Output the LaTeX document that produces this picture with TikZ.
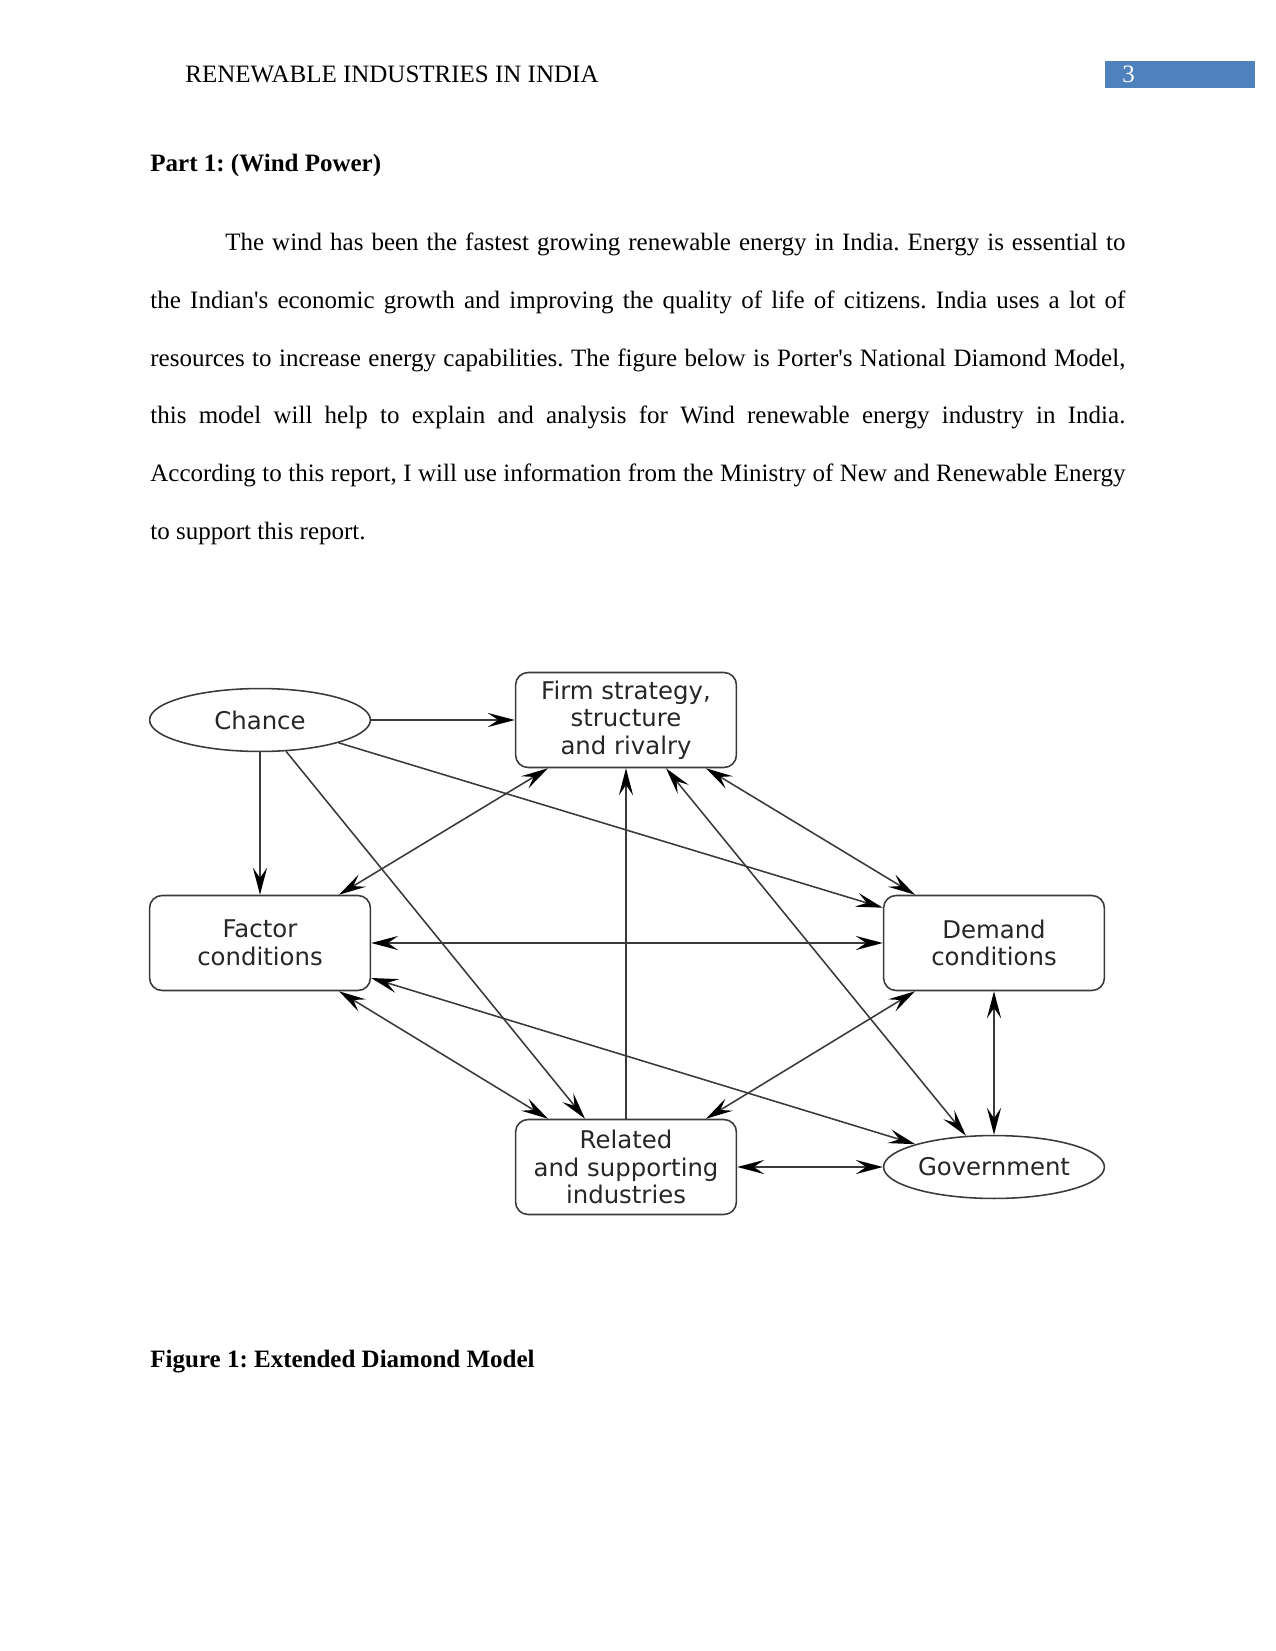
\documentclass[tikz,border=0pt]{standalone}
\usepackage{fontspec}
\setmainfont{Liberation Serif}
\newfontfamily\diagfont{DejaVu Sans}
\usetikzlibrary{calc,shapes.geometric,arrows.meta}
\definecolor{pagenum}{HTML}{4F81BD}
\definecolor{linegray}{HTML}{3A3A3A}
\frenchspacing

\begin{document}
\begin{tikzpicture}[x=0.48pt,y=-0.48pt,
    >={Stealth[length=13pt,width=6.8pt,inset=5pt,black]},
    box/.style={draw=linegray, line width=0.75pt, rounded corners=6pt, minimum width=106pt,
        minimum height=45.6pt, inner sep=0pt, align=center, text=black!85,
        font=\diagfont\fontsize{11.7}{13.2}\selectfont},
    oval/.style={box, ellipse, sharp corners, minimum height=30.2pt},
    link/.style={draw=linegray, line width=0.75pt},
    txt/.style={anchor=base west, inner sep=0pt, font=\fontsize{12}{14}\selectfont}]
    \useasboundingbox (0,0) rectangle (1275,1651);

    % Header
    \node[txt] (head) at (185,83) {RENEWABLE INDUSTRIES IN INDIA};
    \fill[pagenum] (1105,61) rectangle (1255,88);
    \node[txt, text=white] (pnum) at (1122,83) {3};

    % Heading
    \node[txt, font=\bfseries\fontsize{12}{14}\selectfont] (part) at (150,172) {Part 1: (Wind Power)};

    % Paragraph, one line per node
    \node[txt] (l1) at (225,251) {\makebox[432pt][s]{The wind has been the fastest growing renewable energy in India. Energy is essential to}};
    \node[txt] (l2) at (150,308.6) {\makebox[468pt][s]{the Indian\textquotesingle s economic growth and improving the quality of life of citizens. India uses a lot of}};
    \node[txt] (l3) at (150,366.2) {\makebox[468pt][s]{resources to increase energy capabilities. The figure below is Porter\textquotesingle s National Diamond Model,}};
    \node[txt] (l4) at (150,423.8) {\makebox[468pt][s]{this model will help to explain and analysis for Wind renewable energy industry in India.}};
    \node[txt] (l5) at (150,481.4) {\makebox[468pt][s]{According to this report, I will use information from the Ministry of New and Renewable Energy}};
    \node[txt] (l6) at (150,539) {to support this report.};

    % Diamond model
    \node[oval] (chance) at (260,720) {Chance};
    \node[box] (firm) at (626,720) {Firm strategy,\\structure\\and rivalry};
    \node[box] (factor) at (260,943) {Factor\\conditions};
    \node[box] (demand) at (994,943) {Demand\\conditions};
    \node[box] (related) at (626,1167) {Related\\and supporting\\industries};
    \node[oval] (gov) at (994,1167) {Government};

    % Chance
    \draw[link,->] (chance.east) -- (firm.west);
    \draw[link,->] (chance.south) -- (factor.north);
    \draw[link,->] ($(chance.south)+(26,-1)$) -- ($(related.north)+(-41,0)$);
    \draw[link,->] (chance.south east) -- ($(demand.north west)+(0,13)$);

    % Firm strategy
    \draw[link,<->] ($(firm.south)+(-78,0)$) -- ($(factor.north)+(79,0)$);
    \draw[link,->] (related.north) -- (firm.south);
    \draw[link,<->] ($(firm.south)+(40,0)$) -- ($(gov.north)+(-28,1)$);
    \draw[link,<->] ($(firm.south)+(80,0)$) -- ($(demand.north)+(-79,0)$);

    % Factor conditions
    \draw[link,<->] (factor.east) -- (demand.west);
    \draw[link,<->] ($(factor.east)+(0,35)$) -- (gov.north west);
    \draw[link,<->] ($(factor.south)+(79,0)$) -- ($(related.north)+(-78,0)$);

    % Demand, related, government
    \draw[link,<->] ($(demand.south)+(-79,0)$) -- ($(related.north)+(80,0)$);
    \draw[link,<->] (demand.south) -- (gov.north);
    \draw[link,<->] (related.east) -- (gov.west);

    % Caption
    \node[txt, font=\bfseries\fontsize{12}{14}\selectfont] (cap) at (150,1367) {Figure 1: Extended Diamond Model};
\end{tikzpicture}
\end{document}
